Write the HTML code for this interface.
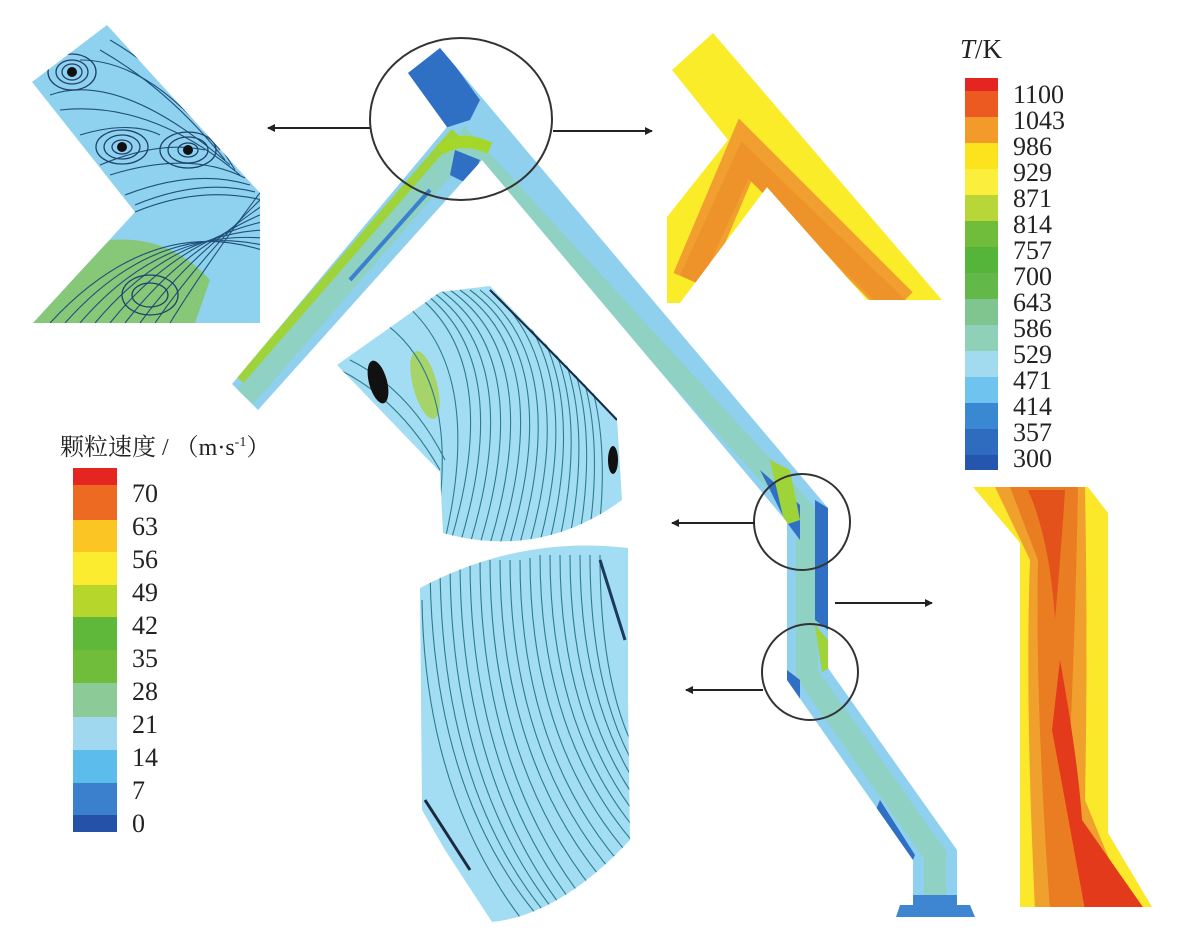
<!DOCTYPE html>
<html><head><meta charset="utf-8"><style>
html,body{margin:0;padding:0;background:#fff;}
svg{display:block;}
.t{font-family:"Liberation Serif","Noto Serif CJK SC",serif;fill:#222;}
</style></head><body>
<svg width="1182" height="945" viewBox="0 0 1182 945" xmlns="http://www.w3.org/2000/svg">
<defs>
<marker id="ah" markerWidth="8" markerHeight="8" refX="7" refY="4" orient="auto" markerUnits="userSpaceOnUse"><path d="M0,0 L8,4 L0,8 Z" fill="#222"/></marker>
<clipPath id="duct"><polygon points="232,384 447,127 408,73 440,48 828,508 828,668 957,850 957,905 913,905 913,860 787,680 787,522 482,160 258,410"/></clipPath>
<clipPath id="tl"><polygon points="107,25 32,82 135,212 33,323 260,323 260,193"/></clipPath>
<clipPath id="mu"><path d="M337,365 L440,292 L490,286 L617,418 L622,500 Q540,560 443,533 L440,472 Z"/></clipPath>
<clipPath id="ml"><path d="M420,588 Q520,535 628,548 L628,700 L630,840 Q560,915 492,922 L445,850 L422,810 Z"/></clipPath>
<clipPath id="tr"><polygon points="672,70 713,33 942,300 867,300 767,187 680,303 667,303 667,217 728,140"/></clipPath>
<clipPath id="br"><polygon points="973,487 1088,487 1108,513 1108,833 1152,907 1020,907 1020,543"/></clipPath>
</defs>

<!-- main duct -->
<g clip-path="url(#duct)">
<rect x="200" y="30" width="800" height="900" fill="#8ed0ee"/>
<polyline points="245,397 465,143 807,515 807,674 935,855 935,905" fill="none" stroke="#8fd1c2" stroke-width="22"/>
<polyline points="240,380 455,132" fill="none" stroke="#9fd33a" stroke-width="9"/>
<path d="M440,150 Q460,135 490,148" fill="none" stroke="#a5d62a" stroke-width="12"/>
<polygon points="405,70 440,45 480,100 470,120 445,128" fill="#2f6fc4"/>
<polygon points="455,150 480,160 470,185 450,175" fill="#2f6fc4"/>
<line x1="350" y1="280" x2="430" y2="190" stroke="#3a7fd0" stroke-width="4"/>
<polygon points="760,470 800,505 800,540 785,520" fill="#2f6fc4"/>
<polygon points="770,460 790,470 800,520 785,525" fill="#9fd33a"/>
<polygon points="815,500 828,508 828,630 815,620" fill="#2f6fc4"/>
<polygon points="815,625 828,640 830,668 822,672" fill="#9fd33a"/>
<polygon points="787,670 800,680 800,700 787,690" fill="#2f6fc4"/>
<polygon points="880,800 915,855 912,862 875,812" fill="#2f6fc4"/>
<polygon points="900,895 975,895 975,917 896,917" fill="#3f86d2"/>
</g>
<polygon points="900,905 970,905 975,917 896,917" fill="#3f86d2"/>

<!-- top-left streamline inset -->
<g clip-path="url(#tl)">
<rect x="30" y="20" width="235" height="310" fill="#8fd2ef"/>
<path d="M30,323 L110,240 Q170,235 210,280 L195,323 Z" fill="#86c878"/>
<g fill="none" stroke="#1f4f7a" stroke-width="1.1">
<path d="M50,323 Q150,215 262,250"/><path d="M65,323 Q155,222 262,245"/><path d="M80,323 Q160,230 262,238"/>
<path d="M95,323 Q168,236 262,230"/><path d="M110,323 Q175,242 262,222"/><path d="M125,323 Q183,248 262,214"/>
<path d="M140,323 Q190,254 262,206"/><path d="M155,323 Q198,260 262,198"/><path d="M170,323 Q205,266 262,190"/>
<path d="M135,212 Q200,185 262,200"/><path d="M135,205 Q200,178 255,192"/><path d="M125,195 Q195,168 250,185"/>
<path d="M110,175 Q190,150 245,178"/><path d="M100,165 Q160,140 205,150"/><path d="M80,135 Q130,120 160,135"/>
<path d="M60,110 Q150,100 240,175"/><path d="M50,95 Q120,70 230,165"/><path d="M80,60 Q150,60 220,150"/>
<path d="M110,40 Q180,80 235,170"/><path d="M100,50 Q170,90 225,160"/>
</g>
<g fill="none" stroke="#1f3f6a" stroke-width="1.3">
<ellipse cx="72" cy="72" rx="10" ry="8"/><ellipse cx="72" cy="72" rx="16" ry="12"/><ellipse cx="72" cy="72" rx="24" ry="18"/>
<ellipse cx="122" cy="147" rx="10" ry="7"/><ellipse cx="122" cy="147" rx="18" ry="12"/><ellipse cx="122" cy="147" rx="26" ry="17"/>
<ellipse cx="188" cy="150" rx="10" ry="7"/><ellipse cx="188" cy="150" rx="20" ry="13"/><ellipse cx="188" cy="150" rx="28" ry="18"/>
<ellipse cx="150" cy="295" rx="18" ry="12"/><ellipse cx="150" cy="295" rx="28" ry="20"/>
</g>
<circle cx="72" cy="72" r="5" fill="#111"/><circle cx="122" cy="147" r="5" fill="#111"/><circle cx="188" cy="150" r="5" fill="#111"/>
</g>

<!-- top-right temperature inset -->
<g clip-path="url(#tr)">
<rect x="660" y="30" width="290" height="280" fill="#fbec2a"/>
<polyline points="690,280 745,150 900,305" fill="none" stroke="#f1a030" stroke-width="36"/>
<polyline points="690,280 745,160 900,310" fill="none" stroke="#ee922a" stroke-width="22"/>
</g>

<!-- middle streamline insets -->
<g clip-path="url(#mu)">
<rect x="330" y="280" width="300" height="290" fill="#a3ddf3"/>
<ellipse cx="425" cy="385" rx="12" ry="35" fill="#a6d46a" transform="rotate(-15 425 385)"/>
<g fill="none" stroke="#2c7d8a" stroke-width="1.1">
<path d="M410,290 Q510,360 445,560"/><path d="M420,290 Q520,360 455,560"/><path d="M430,290 Q530,360 465,560"/><path d="M440,290 Q540,360 475,560"/>
<path d="M450,290 Q550,360 485,560"/><path d="M460,290 Q560,360 495,560"/><path d="M470,290 Q568,362 505,560"/><path d="M480,290 Q575,365 515,560"/>
<path d="M490,290 Q583,368 525,560"/><path d="M500,290 Q590,370 535,560"/><path d="M510,292 Q595,375 545,560"/><path d="M520,295 Q600,380 555,560"/>
<path d="M530,300 Q605,385 565,560"/><path d="M540,305 Q610,390 575,560"/><path d="M550,312 Q615,395 585,560"/><path d="M560,320 Q620,400 595,560"/>
<path d="M400,300 Q490,370 440,560"/><path d="M380,320 Q470,380 430,560"/>
<path d="M340,370 Q400,400 440,470"/><path d="M350,360 Q410,390 445,460"/>
</g>
<path d="M490,290 Q560,360 617,420" fill="none" stroke="#1a2a40" stroke-width="2"/>
<ellipse cx="378" cy="382" rx="9" ry="22" fill="#111" transform="rotate(-15 378 382)"/>
<ellipse cx="613" cy="460" rx="5" ry="14" fill="#111"/>
</g>
<g clip-path="url(#ml)">
<rect x="415" y="530" width="220" height="400" fill="#a3ddf3"/>
<g fill="none" stroke="#2c7d8a" stroke-width="1.1">
<path d="M430,560 Q430,800 550,930"/><path d="M440,560 Q440,800 560,930"/><path d="M450,560 Q450,795 570,930"/><path d="M460,560 Q460,790 580,930"/>
<path d="M470,560 Q470,785 590,925"/><path d="M480,560 Q480,780 600,920"/><path d="M490,560 Q490,775 610,910"/><path d="M500,560 Q500,770 620,900"/>
<path d="M510,560 Q510,765 628,890"/><path d="M520,560 Q520,760 635,880"/><path d="M530,558 Q530,750 638,865"/><path d="M540,555 Q540,740 640,850"/>
<path d="M550,555 Q550,730 640,835"/><path d="M560,555 Q560,720 640,820"/><path d="M570,555 Q570,710 640,805"/><path d="M580,555 Q580,700 640,790"/>
<path d="M590,555 Q590,695 640,775"/><path d="M600,555 Q600,690 640,760"/><path d="M422,600 Q425,800 530,930"/>
</g>
<path d="M425,800 L470,870" stroke="#1a2a40" stroke-width="3"/>
<path d="M600,560 L625,640" stroke="#1a3a60" stroke-width="3"/>
</g>

<!-- bottom-right temperature inset -->
<g clip-path="url(#br)">
<rect x="965" y="480" width="195" height="435" fill="#fbe82a"/>
<path d="M995,487 L1085,487 Q1088,650 1085,800 L1130,910 L1035,910 Q1025,700 1030,560 Z" fill="#f0a02c"/>
<path d="M1010,487 L1078,487 Q1075,650 1068,780 L1110,910 L1050,910 Q1035,700 1038,560 Z" fill="#ea7d22"/>
<path d="M1060,660 Q1078,760 1082,820 L1145,910 L1085,910 Q1065,800 1052,730 Z" fill="#e23a1a"/>
<path d="M1028,490 Q1050,540 1055,620 Q1062,540 1065,490 Z" fill="#e4521c"/>
</g>

<!-- circles -->
<g fill="none" stroke="#333" stroke-width="2">
<ellipse cx="461" cy="119" rx="91" ry="81"/>
<circle cx="802" cy="522" r="48"/>
<circle cx="810" cy="672" r="48"/>
</g>
<!-- arrows -->
<g stroke="#222" stroke-width="2" marker-end="url(#ah)">
<line x1="370" y1="128" x2="268" y2="128"/>
<line x1="553" y1="131" x2="652" y2="131"/>
<line x1="755" y1="523" x2="672" y2="523"/>
<line x1="835" y1="603" x2="932" y2="603"/>
<line x1="763" y1="690" x2="686" y2="690"/>
</g>

<!-- temperature legend -->
<text class="t" x="960" y="58" font-size="27"><tspan font-style="italic">T</tspan>/K</text>
<g>
<rect x="965" y="78" width="33" height="13" fill="#e52620"/>
<rect x="965" y="91" width="33" height="26" fill="#ec5a22"/>
<rect x="965" y="117" width="33" height="26" fill="#f29a2a"/>
<rect x="965" y="143" width="33" height="26" fill="#fbe41e"/>
<rect x="965" y="169" width="33" height="26" fill="#fbee3c"/>
<rect x="965" y="195" width="33" height="26" fill="#b8d638"/>
<rect x="965" y="221" width="33" height="26" fill="#6fbd3a"/>
<rect x="965" y="247" width="33" height="26" fill="#55b43a"/>
<rect x="965" y="273" width="33" height="26" fill="#62b94a"/>
<rect x="965" y="299" width="33" height="26" fill="#80c490"/>
<rect x="965" y="325" width="33" height="26" fill="#8fd0b8"/>
<rect x="965" y="351" width="33" height="26" fill="#a2dbef"/>
<rect x="965" y="377" width="33" height="26" fill="#6ec4ee"/>
<rect x="965" y="403" width="33" height="26" fill="#3a88d2"/>
<rect x="965" y="429" width="33" height="26" fill="#2f6cc0"/>
<rect x="965" y="455" width="33" height="15" fill="#2456b0"/>
</g>
<g class="t" font-size="26">
<text x="1013" y="103">1100</text><text x="1013" y="129">1043</text><text x="1013" y="155">986</text>
<text x="1013" y="181">929</text><text x="1013" y="207">871</text><text x="1013" y="233">814</text>
<text x="1013" y="259">757</text><text x="1013" y="285">700</text><text x="1013" y="311">643</text>
<text x="1013" y="337">586</text><text x="1013" y="363">529</text><text x="1013" y="389">471</text>
<text x="1013" y="415">414</text><text x="1013" y="441">357</text><text x="1013" y="467">300</text>
</g>

<!-- velocity legend -->
<text class="t" x="60" y="455" font-size="24">颗粒速度 / （m·s<tspan font-size="14" dy="-9">-1</tspan><tspan dy="9">）</tspan></text>
<g>
<rect x="73" y="468" width="44" height="17" fill="#e52620"/>
<rect x="73" y="485" width="44" height="35" fill="#ec6a22"/>
<rect x="73" y="520" width="44" height="32" fill="#fbc624"/>
<rect x="73" y="552" width="44" height="33" fill="#fbec30"/>
<rect x="73" y="585" width="44" height="32" fill="#b6d62c"/>
<rect x="73" y="617" width="44" height="33" fill="#5fb83a"/>
<rect x="73" y="650" width="44" height="33" fill="#6fbd3a"/>
<rect x="73" y="683" width="44" height="34" fill="#8ccb98"/>
<rect x="73" y="717" width="44" height="33" fill="#9fd8ef"/>
<rect x="73" y="750" width="44" height="33" fill="#5cbcec"/>
<rect x="73" y="783" width="44" height="32" fill="#3a80cc"/>
<rect x="73" y="815" width="44" height="17" fill="#2552a8"/>
</g>
<g class="t" font-size="26">
<text x="132" y="502">70</text><text x="132" y="535">63</text><text x="132" y="568">56</text>
<text x="132" y="601">49</text><text x="132" y="634">42</text><text x="132" y="667">35</text>
<text x="132" y="700">28</text><text x="132" y="733">21</text><text x="132" y="766">14</text>
<text x="132" y="799">7</text><text x="132" y="832">0</text>
</g>
</svg>
</body></html>
